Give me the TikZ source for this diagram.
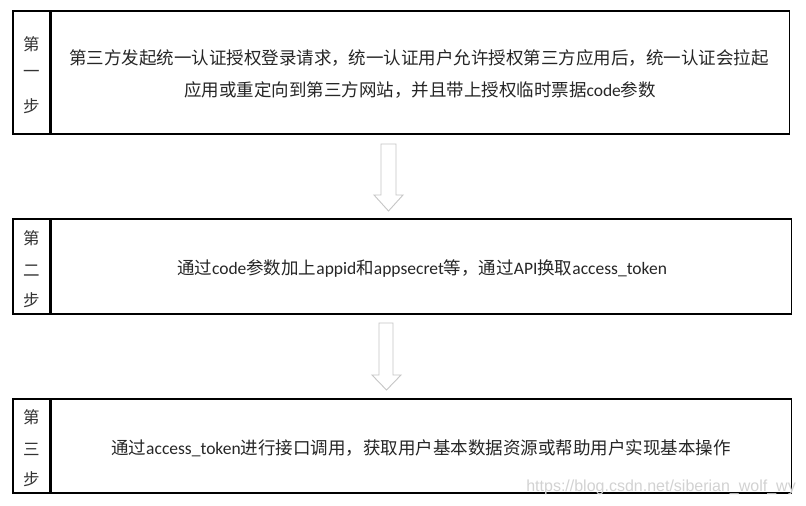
\documentclass[tikz,border=0pt]{standalone}
\usepackage{fontspec}
\setmainfont{Carlito}
\newfontfamily\cjk{Noto Sans CJK SC}
\newfontfamily\wmfont{Liberation Sans}
\begin{document}
\begin{tikzpicture}[x=1pt,y=-1pt,
  cell/.style={draw=black, line width=1.1pt, rectangle, inner sep=0pt},
  txt/.style={inner sep=0pt, font=\fontsize{17.5}{20}\selectfont, text=black!85},
  side/.style={inner sep=0pt, font=\cjk\fontsize{16.5}{20}\selectfont, text=black!80},
  hollow/.style={draw=gray!45, line width=0.9pt, fill=white},
  wm/.style={inner sep=0pt, font=\wmfont\fontsize{16}{18}\selectfont, text=gray!35}]
\useasboundingbox (0,0) rectangle (806,506);
\fill[white] (0,0) rectangle (806,506);

% step 1
\node[cell, minimum width=37pt, minimum height=123pt] (l1) at (31.5,72.5) {};
\node[cell, minimum width=738pt, minimum height=123pt, anchor=west] (b1) at (l1.east) {};
\node[side] (l1a) at (31.5,44) {第};
\node[side] (l1b) at (31.5,74) {一};
\node[side] (l1c) at (31.5,106) {步};
\node[txt] (t1a) at (419,58) {{\cjk 第三方发起统一认证授权登录请求，统一认证用户允许授权第三方应用后，统一认证会拉起}};
\node[txt] (t1b) at (420,90) {{\cjk 应用或重定向到第三方网站，并且带上授权临时票据}code{\cjk 参数}};

% step 2
\node[cell, minimum width=37pt, minimum height=95pt] (l2) at (31.5,266.5) {};
\node[cell, minimum width=740pt, minimum height=95pt, anchor=west] (b2) at (l2.east) {};
\node[side] (l2a) at (31.5,238) {第};
\node[side] (l2b) at (31.5,271) {二};
\node[side] (l2c) at (31.5,300) {步};
\node[txt] (t2) at (422,269) {{\cjk 通过}code{\cjk 参数加上}appid{\cjk 和}appsecret{\cjk 等，通过}API{\cjk 换取}access\_token};

% step 3
\node[cell, minimum width=37pt, minimum height=94pt] (l3) at (31.5,446) {};
\node[cell, minimum width=740pt, minimum height=94pt, anchor=west] (b3) at (l3.east) {};
\node[side] (l3a) at (31.5,417) {第};
\node[side] (l3b) at (31.5,449) {三};
\node[side] (l3c) at (31.5,479) {步};
\node[txt] (t3) at (421,448) {{\cjk 通过}access\_token{\cjk 进行接口调用，获取用户基本数据资源或帮助用户实现基本操作}};

% hollow arrows
\draw[hollow] (381,144) -- (396,144) -- (396,195) -- (403,195) -- (388.5,211) -- (374,195) -- (381,195) -- cycle;
\draw[hollow] (379,323) -- (393,323) -- (393,375) -- (401,375) -- (386.5,390) -- (372,375) -- (379,375) -- cycle;

% watermark
\node[wm, anchor=east] (wm) at (796,487) {https://blog.csdn.net/siberian\_wolf\_wy};
\end{tikzpicture}
\end{document}
